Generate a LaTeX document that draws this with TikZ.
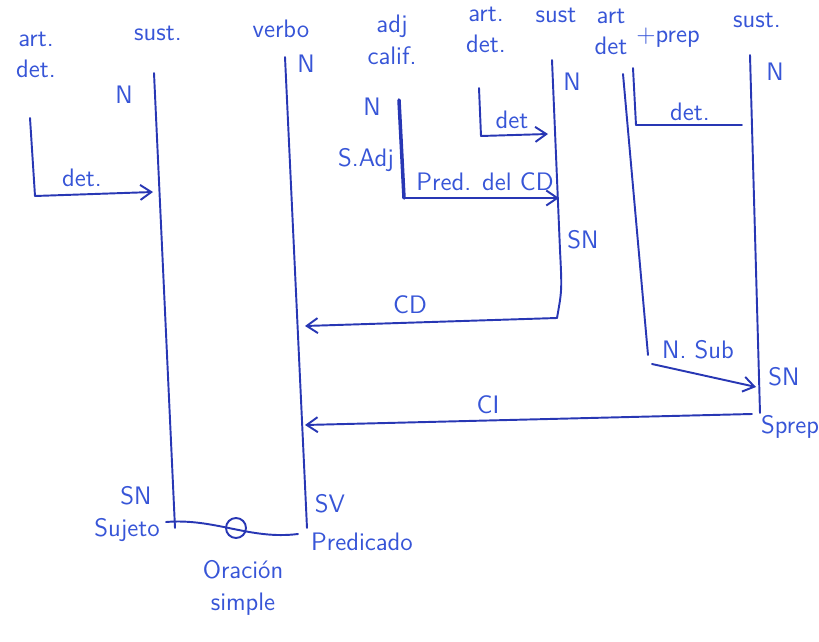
\documentclass[tikz,border=0pt]{standalone}
\usepackage{tikz}
\usetikzlibrary{positioning, arrows.meta, calc}
\definecolor{ink}{RGB}{40,55,180}
\definecolor{inktext}{RGB}{55,85,215}
\tikzset{
  lbl/.style={text=inktext, font=\sffamily\Large, inner sep=1pt, align=center},
  bar/.style={draw=ink, line width=1.1pt, line cap=round},
  ptr/.style={bar, -{Straight Barb[length=2.2mm,width=3mm]}},
}

\begin{document}
\begin{tikzpicture}[x=0.02cm, y=-0.02cm]
    \useasboundingbox (0,0) rectangle (819,642);
    % Vertical bars
    \coordinate (suj-top) at (154,73);
    \coordinate (suj-bot) at (175,528);
    \coordinate (verb-top) at (285,57);
    \coordinate (verb-bot) at (307,528);
    \coordinate (cd-top) at (552,60);
    \coordinate (cd-mid) at (560,250);
    \coordinate (cd-bot) at (557,318);
    \coordinate (ci-top) at (750,55);
    \coordinate (ci-bot) at (760,413);
    \coordinate (adj-top) at (399,100);
    \coordinate (adj-bot) at (404,198);
    \coordinate (det1-top) at (30,118);
    \coordinate (det1-bot) at (35,196);
    \coordinate (det2-top) at (479,88);
    \coordinate (det2-bot) at (481,136);
    \coordinate (prep-top) at (623,74);
    \coordinate (prep-bot) at (648,355);
    \coordinate (det3-top) at (633,68);
    \coordinate (det3-bot) at (636,125);
    \draw[bar] (suj-top) -- (suj-bot);
    \draw[bar] (verb-top) -- (verb-bot);
    \draw[bar] (cd-top) -- (cd-mid) .. controls (562,290) .. (cd-bot);
    \draw[bar] (ci-top) -- (ci-bot);
    \draw[bar, line width=2pt] (adj-top) -- (adj-bot);
    \draw[bar] (det1-top) -- (det1-bot);
    \draw[bar] (det2-top) -- (det2-bot);
    \draw[bar] (prep-top) -- (prep-bot);
    \draw[bar] (det3-top) -- (det3-bot);
    % Horizontal links
    \coordinate (det1-end) at (153,192);
    \coordinate (det2-end) at (548,134);
    \coordinate (adj-end) at (559,198);
    \coordinate (det3-end) at (742,125);
    \coordinate (cd-end) at (305,326);
    \coordinate (ci-start) at (752,414);
    \coordinate (ci-end) at (305,425);
    \coordinate (sub-start) at (652,364);
    \coordinate (sub-end) at (756,387);
    \draw[ptr] (det1-bot) -- (det1-end);
    \draw[ptr] (det2-bot) -- (det2-end);
    \draw[ptr] (adj-bot) -- (adj-end);
    \draw[bar] (det3-bot) -- (det3-end);
    \draw[ptr] (cd-bot) -- (cd-end);
    \draw[ptr] (ci-start) -- (ci-end);
    \draw[ptr] (sub-start) -- (sub-end);
    % Base line
    \coordinate (base-l) at (166,522);
    \coordinate (base-r) at (298,534);
    \draw[bar] (base-l) .. controls (215,518) and (250,540) .. (base-r);
    \node[draw=ink, line width=1.1pt, circle, minimum size=0.4cm, inner sep=0pt] (ora) at (236,528) {};
    % Word classes (top)
    \node[lbl] (w-art1) at (36,55) {art.\\det.};
    \node[lbl] (w-sust1) at (158,33) {sust.};
    \node[lbl] (w-verbo) at (281,29) {verbo};
    \node[lbl] (w-adj) at (392,40) {adj\\calif.};
    \node[lbl] (w-art2) at (486,30) {art.\\det.};
    \node[lbl] (w-sust2) at (556,15) {sust};
    \node[lbl] (w-art3) at (611,32) {art\\det};
    \node[lbl] (w-prep) at (668,38) {+prep};
    \node[lbl] (w-sust3) at (757,20) {sust.};
    % Functions
    \node[lbl] (n1) at (124,95) {N};
    \node[lbl] (n2) at (306,64) {N};
    \node[lbl] (n3) at (372,107) {N};
    \node[lbl] (n4) at (572,82) {N};
    \node[lbl] (n5) at (775,72) {N};
    \node[lbl] (s-adj) at (366,160) {S.Adj};
    \node[lbl] (f-det1) at (82,178) {det.};
    \node[lbl] (f-det2) at (512,120) {det};
    \node[lbl] (f-det3) at (690,112) {det.};
    \node[lbl] (f-pred) at (485,182) {Pred. del CD};
    \node[lbl] (f-sn1) at (583,240) {SN};
    \node[lbl] (f-cd) at (410,305) {CD};
    \node[lbl] (f-ci) at (488,405) {CI};
    \node[lbl] (f-sub) at (698,350) {N. Sub};
    \node[lbl] (f-sn2) at (784,377) {SN};
    \node[lbl] (f-sprep) at (790,427) {Sprep};
    % Bottom labels
    \node[lbl] (f-sn3) at (136,496) {SN};
    \node[lbl] (f-suj) at (127,530) {Sujeto};
    \node[lbl] (f-sv) at (330,504) {SV};
    \node[lbl] (f-pred2) at (362,542) {Predicado};
    \node[lbl] (f-ora) at (243,588) {Oración\\simple};
\end{tikzpicture}
\end{document}
